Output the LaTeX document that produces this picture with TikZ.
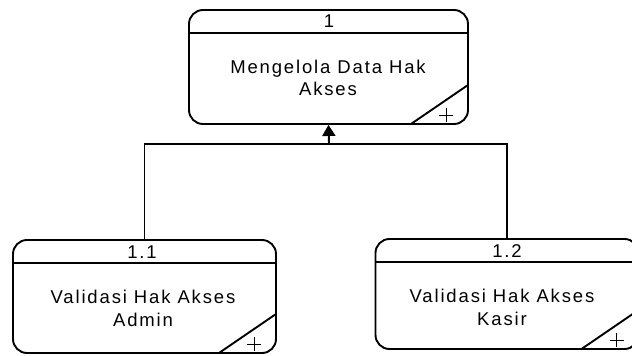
\documentclass[tikz,border=0pt]{standalone}
\usepackage{fontspec}
\setmainfont{Liberation Sans}[LetterSpace=10]
\usetikzlibrary{arrows.meta}

\begin{document}
\begin{tikzpicture}[x=1pt,y=-1pt,
  proses/.style={draw, line width=1.9pt, rounded corners=14pt,
    minimum width=263pt, minimum height=113pt, inner sep=0pt,
    path picture={
      \draw[line width=1.9pt] ([yshift=-23pt]path picture bounding box.north west)
        -- ([yshift=-23pt]path picture bounding box.north east);
      \draw[line width=1.9pt] ([xshift=-57pt]path picture bounding box.south east)
        -- ([yshift=39pt]path picture bounding box.south east);
      \draw[line width=0.8pt] ([xshift=-29pt,yshift=9pt]path picture bounding box.south east)
        -- ++(14pt,0) ++(-7pt,-7pt) -- ++(0,14pt);
    }},
  nomor/.style={inner sep=0pt, font=\fontsize{18.5}{21}\selectfont},
  nama/.style={inner sep=0pt, align=center, font=\fontsize{18.5}{23.3}\selectfont},
  alur/.style={line width=1.9pt}]
\clip (0,0) rectangle (632,356);

\node[proses, minimum width=279pt, minimum height=114pt] (p1) at (328.5,67) {};
\node[proses] (p11) at (144.5,296.5) {};
\node[proses, minimum height=110pt] (p12) at (507,294) {};

\node[nomor] (n1) at (329,21) {1};
\node[nomor] (n11) at (142,252.5) {1.1};
\node[nomor] (n12) at (507,251) {1.2};

\node[nama, font=\fontsize{18.5}{21.7}\selectfont] (t1) at (328,78) {Mengelola Data Hak\\Akses};
\node[nama] (t11) at (143,308.5) {Validasi Hak Akses\\Admin};
\node[nama] (t12) at (502,307.5) {Validasi Hak Akses\\Kasir};

\coordinate (gabung) at (329,144);
\draw[alur] (p11.north) |- (gabung);
\draw[alur] (p12.north) |- (gabung);
\draw[alur, -{Triangle[width=13pt,length=11pt]}] (gabung) -- (p1.south);
\end{tikzpicture}
\end{document}
